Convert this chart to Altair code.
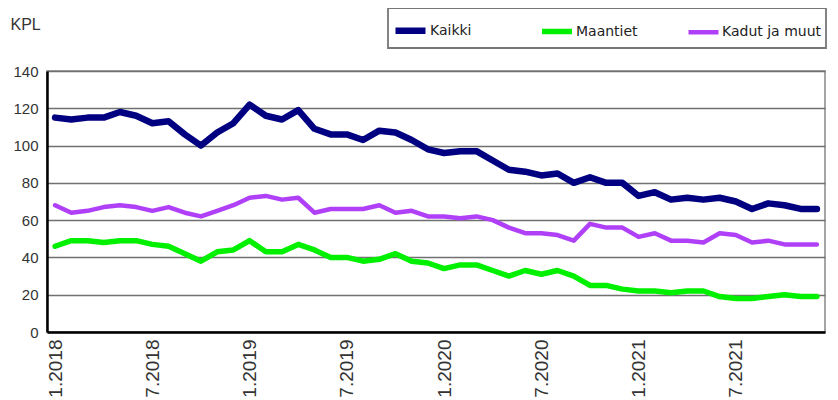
import altair as alt
import pandas as pd

months = [f"{m}.{y}" for y in (2018, 2019, 2020, 2021) for m in range(1, 13)]
tick_labels = months[::6]

kaikki = [115, 114, 115, 115, 118, 116, 112, 113, 106, 100, 107, 112,
          122, 116, 114, 119, 109, 106, 106, 103, 108, 107, 103, 98,
          96, 97, 97, 92, 87, 86, 84, 85, 80, 83, 80, 80,
          73, 75, 71, 72, 71, 72, 70, 66, 69, 68, 66, 66]
maantiet = [46, 49, 49, 48, 49, 49, 47, 46, 42, 38, 43, 44,
            49, 43, 43, 47, 44, 40, 40, 38, 39, 42, 38, 37,
            34, 36, 36, 33, 30, 33, 31, 33, 30, 25, 25, 23,
            22, 22, 21, 22, 22, 19, 18, 18, 19, 20, 19, 19]
kadut = [68, 64, 65, 67, 68, 67, 65, 67, 64, 62, 65, 68,
         72, 73, 71, 72, 64, 66, 66, 66, 68, 64, 65, 62,
         62, 61, 62, 60, 56, 53, 53, 52, 49, 58, 56, 56,
         51, 53, 49, 49, 48, 53, 52, 48, 49, 47, 47, 47]

series_names = ["Kaikki", "Maantiet", "Kadut ja muut"]
series_colors = ["#000080", "#00f000", "#b040f8"]
series_widths = [6.5, 4.5, 4]

rows = []
for name, vals in zip(series_names, [kaikki, maantiet, kadut]):
    for m, v in zip(months, vals):
        rows.append({"month": m, "value": v, "series": name})
df = pd.DataFrame(rows)

legend = alt.Legend(
    orient="none", legendX=341, legendY=-63, direction="horizontal", title=None,
    symbolType="stroke", symbolSize=900, labelFont="DejaVu Sans", labelFontSize=14,
    labelColor="#222", strokeColor="#777", fillColor="white", padding=4,
    columnPadding=3, gridAlign="all", labelOffset=1, labelLimit=200,
)

chart = alt.Chart(df).mark_line(strokeJoin="round", strokeCap="round").encode(
    x=alt.X("month:N", sort=months, scale=alt.Scale(domain=months),
            axis=alt.Axis(values=tick_labels, labelAngle=270, ticks=False, grid=False,
                          domainColor="black", domainWidth=2.5, labelFontSize=19,
                          labelFont="Liberation Sans", labelPadding=7, labelColor="#333",
                          title=None)),
    y=alt.Y("value:Q", scale=alt.Scale(domain=[0, 140], nice=False),
            axis=alt.Axis(values=list(range(0, 141, 20)), grid=True, gridColor="#707070",
                          gridWidth=1.6, ticks=False, domainColor="black", domainWidth=2.5,
                          labelFontSize=15, labelFont="Liberation Sans", labelPadding=9,
                          labelColor="#333", title="KPL", titleAngle=0, titleX=-37,
                          titleY=-42, titleAlign="left", titleBaseline="alphabetic",
                          titleFontWeight="normal", titleFontSize=16,
                          titleFont="Liberation Sans", titleColor="#333")),
    color=alt.Color("series:N", scale=alt.Scale(domain=series_names, range=series_colors),
                    legend=legend),
    strokeWidth=alt.StrokeWidth("series:N",
                                scale=alt.Scale(domain=series_names, range=series_widths),
                                legend=legend),
).properties(
    width=778, height=261,
    padding={"left": 39, "top": 63, "right": 5, "bottom": 68},
    autosize=alt.AutoSizeParams(type="none"),
).configure_view(
    stroke="#888", strokeWidth=1.5
).configure_legend(
    strokeWidth=1.8
)

chart.save("out.html", embed_options={"renderer": "svg", "actions": False})
